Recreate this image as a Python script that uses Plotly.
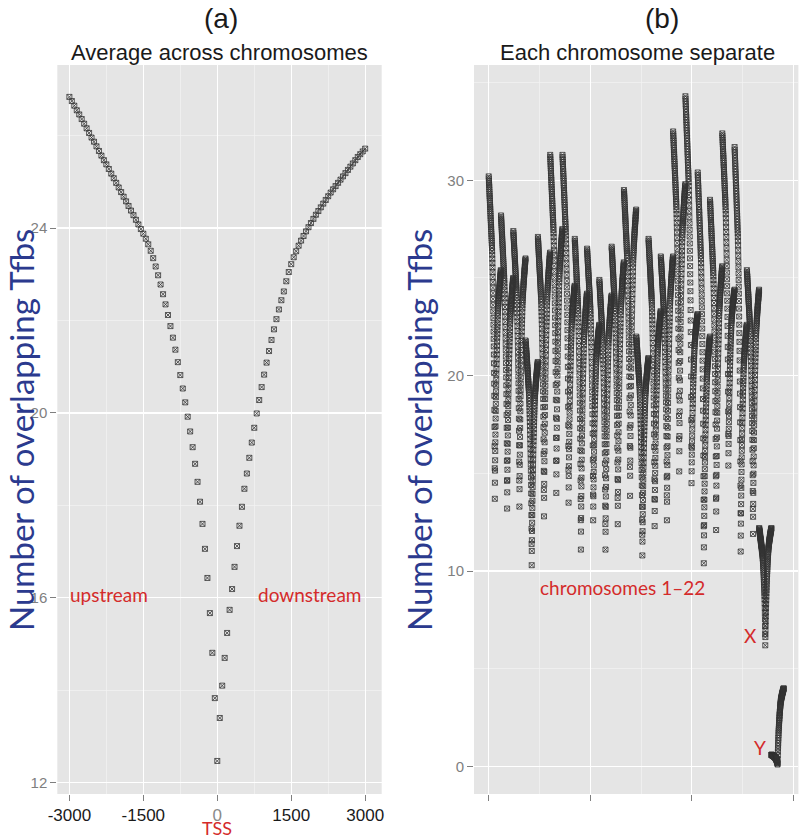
import plotly.graph_objects as go

# ---------------- data ----------------
# Panel (a): distance to TSS (bp) and average number of overlapping TFBS
positions = list(range(-3000, 3001, 50))
avg_upstream = [  # -3000 ... 0
    26.84, 26.75, 26.65, 26.55, 26.46, 26.36, 26.26, 26.16, 26.06, 25.96,
    25.87, 25.77, 25.67, 25.57, 25.47, 25.38, 25.28, 25.18, 25.08, 24.98,
    24.88, 24.78, 24.68, 24.58, 24.48, 24.38, 24.28, 24.18, 24.08, 23.98,
    23.88, 23.77, 23.65, 23.51, 23.35, 23.17, 22.98, 22.78, 22.57, 22.35,
    22.12, 21.88, 21.63, 21.37, 21.10, 20.82, 20.53, 20.23, 19.92, 19.60,
    19.26, 18.90, 18.51, 18.08, 17.60, 17.06, 16.43, 15.67, 14.81, 13.83,
    12.47]
avg_downstream = [  # 50 ... 3000
    13.40, 14.10, 14.70, 15.24, 15.74, 16.19, 16.67, 17.12, 17.56, 17.97,
    18.36, 18.69, 19.03, 19.36, 19.68, 19.99, 20.28, 20.56, 20.83, 21.09,
    21.34, 21.58, 21.81, 22.03, 22.24, 22.44, 22.63, 22.85, 23.05, 23.22,
    23.37, 23.50, 23.62, 23.73, 23.83, 23.93, 24.02, 24.11, 24.20, 24.29,
    24.37, 24.45, 24.53, 24.61, 24.69, 24.77, 24.84, 24.91, 24.98, 25.05,
    25.12, 25.19, 25.26, 25.33, 25.40, 25.47, 25.54, 25.60, 25.66, 25.72]
avg_tfbs = avg_upstream + avg_downstream

# Panel (b): per chromosome, value at -3000, minimum at TSS, value at +3000
chromosomes = [str(i) for i in range(1, 23)] + ["X", "Y"]
chrom_start = [30.2, 28.2, 27.4, 21.8, 27.1, 31.3, 31.3, 27.0, 26.5, 24.9, 26.6, 29.5,
               22.0, 27.0, 26.1, 32.5, 34.3, 30.4, 29.0, 32.4, 31.7, 25.4, 12.2, 0.6]
chrom_min = [13.7, 13.2, 13.3, 10.3, 12.8, 14.0, 13.5, 11.1, 12.6, 11.1, 12.4, 13.85,
             10.8, 12.3, 12.6, 15.1, 14.5, 10.4, 12.1, 15.4, 11.0, 11.9, 6.2, 0.1]
chrom_end = [25.4, 25.0, 26.0, 20.7, 26.3, 27.5, 24.6, 24.2, 22.6, 24.1, 25.8, 28.5,
             20.9, 23.3, 26.1, 29.8, 23.15, 22.0, 25.6, 24.4, 22.6, 24.4, 12.2, 4.0]

# ---------------- build panel (b) series from the chromosome values ----------------
n = len(positions)
centre = positions.index(0)
a0, aL, aR = avg_tfbs[centre], avg_tfbs[0], avg_tfbs[-1]
bx, by = [], []
for c in range(len(chromosomes)):
    L, M, R = chrom_start[c], chrom_min[c], chrom_end[c]
    for j in range(n):
        v = avg_tfbs[j]
        if j <= centre:
            y = M + (v - a0) / (aL - a0) * (L - M)
        else:
            y = M + (v - a0) / (aR - a0) * (R - M)
        bx.append(c * n + j + 1)
        by.append(y)

W, H = 799, 840
def px(x):
    return x / W
def py(y):
    return 1 - y / H

BG = "#e5e5e5"
GRID = "white"
MINOR = "#f3f3f3"
TICKGREY = "#7f7f7f"
RED = "#d42b2b"
BLUE = "#2b3a8e"
SANS = "Liberation Sans, Arial, sans-serif"
HUM = "Lato, Open Sans, sans-serif"

marker = dict(symbol="square-x-open", size=5, color="#333333", line=dict(width=0.8))

fig = go.Figure()
fig.add_trace(go.Scatter(x=positions, y=avg_tfbs, mode="markers", marker=marker,
                         xaxis="x", yaxis="y", showlegend=False, hoverinfo="skip"))
fig.add_trace(go.Scatter(x=bx, y=by, mode="markers", marker=marker,
                         xaxis="x2", yaxis="y2", showlegend=False, hoverinfo="skip"))

ydom = [py(794), py(65)]
common = dict(showgrid=True, gridcolor=GRID, gridwidth=1.3, zeroline=False, showline=False,
              ticks="outside", tickcolor=TICKGREY, tickwidth=1, ticklen=6, automargin=False)

fig.update_layout(
    width=W, height=H, margin=dict(l=0, r=0, t=0, b=0, pad=0), autosize=False,
    paper_bgcolor="white", plot_bgcolor=BG, showlegend=False,
    xaxis=dict(domain=[px(57.3), px(381.7)], range=[-3245, 3335],
               tickvals=[-3000, -1500, 0, 1500, 3000],
               ticktext=["-3000", "-1500", '<span style="color:#8a8a8a">0</span>', "1500", "3000"],
               tickfont=dict(family=SANS, size=17, color="#1a1a1a"),
               minor=dict(tickvals=[-2250, -750, 750, 2250], showgrid=True, gridcolor=MINOR,
                          gridwidth=0.7, ticks=""),
               anchor="y", **common),
    yaxis=dict(domain=ydom, range=[11.755, 27.53], tickvals=[12, 16, 20, 24],
               tickfont=dict(family=SANS, size=15, color=TICKGREY),
               minor=dict(tickvals=[14, 18, 22, 26], showgrid=True, gridcolor=MINOR,
                          gridwidth=0.7, ticks=""),
               anchor="x", **common),
    xaxis2=dict(domain=[px(474), px(798.4)], range=[-144, 3049],
                tickvals=[0, 1000, 2000, 3000], showticklabels=False,
                minor=dict(tickvals=[500, 1500, 2500], showgrid=True, gridcolor=MINOR,
                           gridwidth=0.7, ticks=""),
                anchor="y2", **common),
    yaxis2=dict(domain=ydom, range=[-1.41, 35.9], tickvals=[0, 10, 20, 30],
                tickfont=dict(family=SANS, size=15, color=TICKGREY),
                minor=dict(tickvals=[5, 15, 25, 35], showgrid=True, gridcolor=MINOR,
                           gridwidth=0.7, ticks=""),
                anchor="x2", **common),
)

def note(text, x, y, size, color, family, angle=0):
    fig.add_annotation(text=text, x=px(x), y=py(y), xref="paper", yref="paper",
                       showarrow=False, xanchor="center", yanchor="middle",
                       font=dict(size=size, color=color, family=family), textangle=angle)

note("(a)", 221, 18, 28, "#1a1a1a", SANS)
note("(b)", 662, 18, 28, "#1a1a1a", SANS)
note("Average across chromosomes", 219, 52, 22, "#1a1a1a", SANS)
note("Each chromosome separate", 637, 52, 22, "#1a1a1a", SANS)
note("Number of overlapping Tfbs", 21, 430, 33, BLUE, HUM, -90)
note("Number of overlapping Tfbs", 419, 430, 33, BLUE, HUM, -90)
note("upstream", 109, 594, 19, RED, HUM)
note("downstream", 309, 594, 19, RED, HUM)
note("TSS", 217, 828, 18, RED, HUM)
note("chromosomes 1\u201322", 622, 587, 19, RED, HUM)
note("X", 750, 635, 19, RED, HUM)
note("Y", 760, 747, 19, RED, HUM)

fig.write_html("out.html", config={"displayModeBar": False, "staticPlot": True},
               post_script="document.body.style.margin='0';document.body.style.overflow='hidden';")
